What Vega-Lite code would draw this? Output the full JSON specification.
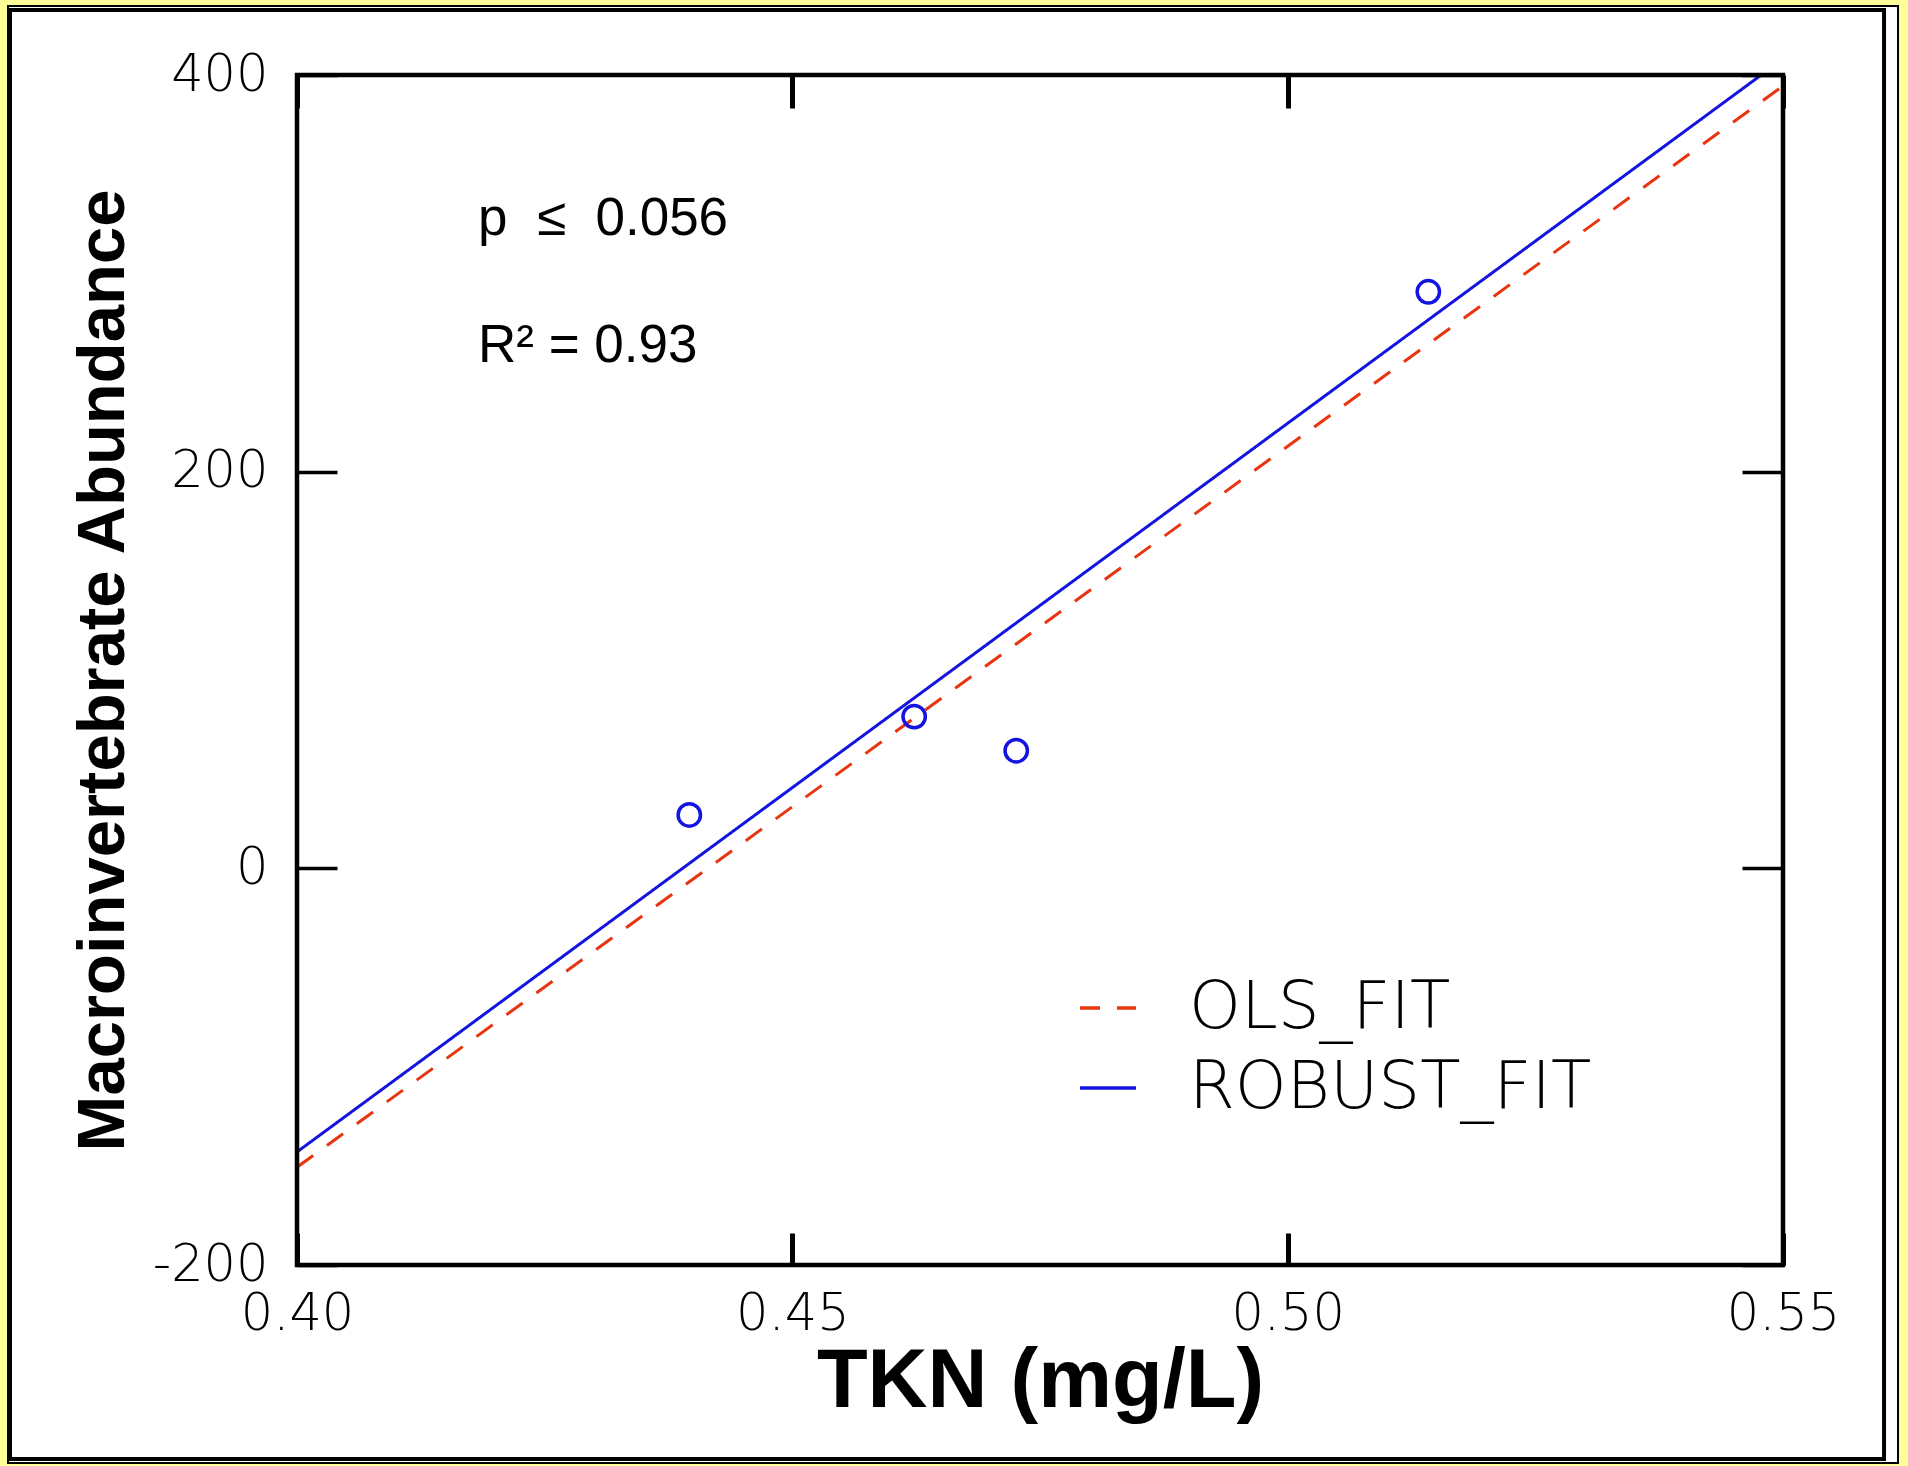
{
  "$schema": "https://vega.github.io/schema/vega-lite/v6.json",
  "width": 1486,
  "height": 1190,
  "autosize": {"type": "none"},
  "padding": {"left": 297, "top": 75, "right": 125, "bottom": 201},
  "background": "#ffff99",
  "config": {
    "view": {"stroke": null},
    "axis": {"grid": false, "labelColor": "black", "tickColor": "black", "labelFlush": false, "tickCap": "butt"}
  },
  "datasets": {
    "fits": [
      {"fit": "OLS_FIT", "x": 0.40, "y": -150.7},
      {"fit": "OLS_FIT", "x": 0.55, "y": 394.5},
      {"fit": "ROBUST_FIT", "x": 0.40, "y": -143},
      {"fit": "ROBUST_FIT", "x": 0.5478, "y": 400}
    ],
    "points": [
      {"x": 0.4396, "y": 26.9},
      {"x": 0.4623, "y": 76.5},
      {"x": 0.4726, "y": 59.3},
      {"x": 0.5142, "y": 290.7}
    ],
    "notes": [
      {"label": "p\u00a0\u00a0≤\u00a0\u00a00.056", "x": 0.41827, "y": 319.3},
      {"label": "R² = 0.93", "x": 0.41827, "y": 255.5}
    ]
  },
  "layer": [
    {
      "data": {"values": [{}]},
      "mark": {"type": "rect", "fill": "white", "stroke": "black", "strokeWidth": 2},
      "encoding": {
        "x": {"datum": 0.37083, "type": "quantitative", "scale": {"domain": [0.4, 0.55], "nice": false, "zero": false}, "axis": null},
        "x2": {"datum": 0.56161},
        "y": {"datum": 434.79, "type": "quantitative", "scale": {"domain": [-200, 400], "nice": false, "zero": false}, "axis": null},
        "y2": {"datum": -299.83}
      }
    },
    {
      "data": {"values": [{}]},
      "mark": {"type": "rect", "fillOpacity": 0, "stroke": "black", "strokeWidth": 4},
      "encoding": {
        "x": {"datum": 0.37103, "type": "quantitative", "scale": {"domain": [0.4, 0.55], "nice": false, "zero": false}, "axis": null},
        "x2": {"datum": 0.5602},
        "y": {"datum": 432.77, "type": "quantitative", "scale": {"domain": [-200, 400], "nice": false, "zero": false}, "axis": null},
        "y2": {"datum": -297.8}
      }
    },
    {
      "data": {"name": "fits"},
      "mark": {"type": "line", "strokeWidth": 3, "clip": true},
      "encoding": {
        "x": {
          "field": "x", "type": "quantitative",
          "scale": {"domain": [0.4, 0.55], "nice": false, "zero": false},
          "axis": {
            "orient": "bottom", "zindex": 2, "values": [0.4, 0.45, 0.5, 0.55], "format": ".2f",
            "ticks": false, "domain": false, "labelPadding": 49, "labelBaseline": "middle",
            "labelFont": "DejaVu Sans", "labelFontWeight": 200, "labelFontSize": 51,
            "title": "TKN (mg/L)", "titleFont": "Liberation Sans", "titleFontWeight": "bold",
            "titleFontSize": 83, "titleColor": "black", "titleX": 743, "titleY": 116, "titleBaseline": "middle", "titleAlign": "center"
          }
        },
        "y": {
          "field": "y", "type": "quantitative",
          "scale": {"domain": [-200, 400], "nice": false, "zero": false},
          "axis": {
            "orient": "left", "zindex": 2, "values": [-200, 0, 200, 400], "labelExpr": "'' + datum.value",
            "ticks": false, "domain": false, "labelPadding": 29, "labelBaseline": "middle",
            "labelFont": "DejaVu Sans", "labelFontWeight": 200, "labelFontSize": 51,
            "title": "Macroinvertebrate Abundance", "titleFont": "Liberation Sans", "titleFontWeight": "bold",
            "titleFontSize": 67, "titleColor": "black", "titleX": -194, "titleY": 595, "titleBaseline": "middle", "titleAlign": "center", "titleAngle": -90
          }
        },
        "color": {
          "field": "fit", "type": "nominal",
          "scale": {"domain": ["OLS_FIT", "ROBUST_FIT"], "range": ["#e8340f", "#1414e0"]},
          "legend": {
            "orient": "none", "legendX": 778, "legendY": 900, "title": null, "padding": 0, "zindex": 2,
            "symbolType": "stroke", "symbolSize": 3136, "symbolStrokeWidth": 3.5,
            "labelFont": "DejaVu Sans", "labelFontWeight": 200, "labelFontSize": 66, "labelColor": "black", "labelLimit": 1000,
            "labelOffset": 48, "rowPadding": 14
          }
        },
        "strokeDash": {
          "field": "fit", "type": "nominal",
          "scale": {"domain": ["OLS_FIT", "ROBUST_FIT"], "range": [[20, 17], [1, 0]]},
          "legend": {
            "orient": "none", "legendX": 778, "legendY": 900, "title": null, "padding": 0, "zindex": 2,
            "symbolType": "stroke", "symbolSize": 3136, "symbolStrokeWidth": 3.5,
            "labelFont": "DejaVu Sans", "labelFontWeight": 200, "labelFontSize": 66, "labelColor": "black", "labelLimit": 1000,
            "labelOffset": 48, "rowPadding": 14
          }
        }
      }
    },
    {
      "data": {"name": "points"},
      "mark": {"type": "point", "shape": "circle", "filled": false, "stroke": "#1414e0", "strokeWidth": 3.5, "size": 500, "opacity": 1},
      "encoding": {
        "x": {
          "field": "x", "type": "quantitative",
          "scale": {"domain": [0.4, 0.55], "nice": false, "zero": false},
          "axis": {"orient": "bottom", "zindex": 2, "offset": -32, "tickSize": 32, "tickWidth": 5, "labels": false, "domain": false, "title": null, "values": [0.4, 0.45, 0.5, 0.55]}
        },
        "y": {
          "field": "y", "type": "quantitative",
          "scale": {"domain": [-200, 400], "nice": false, "zero": false},
          "axis": {"orient": "left", "zindex": 2, "offset": -40, "tickSize": 40, "tickWidth": 3.5, "labels": false, "domain": false, "title": null, "values": [-200, 0, 200, 400]}
        }
      }
    },
    {
      "data": {"name": "notes"},
      "mark": {"type": "text", "align": "left", "baseline": "alphabetic", "font": "Liberation Sans", "fontSize": 53, "color": "black"},
      "encoding": {
        "x": {
          "field": "x", "type": "quantitative",
          "scale": {"domain": [0.4, 0.55], "nice": false, "zero": false},
          "axis": {"orient": "top", "zindex": 2, "offset": -33, "tickSize": 33, "tickWidth": 5, "labels": false, "domain": false, "title": null, "values": [0.4, 0.45, 0.5, 0.55]}
        },
        "y": {
          "field": "y", "type": "quantitative",
          "scale": {"domain": [-200, 400], "nice": false, "zero": false},
          "axis": {"orient": "right", "zindex": 2, "offset": -41, "tickSize": 41, "tickWidth": 3.5, "labels": false, "domain": false, "title": null, "values": [-200, 0, 200, 400]}
        },
        "text": {"field": "label", "type": "nominal"}
      }
    },
    {
      "data": {"values": [{}]},
      "mark": {"type": "rect", "fillOpacity": 0, "stroke": "black", "strokeWidth": 4.5},
      "encoding": {
        "x": {"datum": 0.4, "type": "quantitative", "scale": {"domain": [0.4, 0.55], "nice": false, "zero": false}, "axis": null},
        "x2": {"datum": 0.55},
        "y": {"datum": 400, "type": "quantitative", "scale": {"domain": [-200, 400], "nice": false, "zero": false}, "axis": null},
        "y2": {"datum": -200}
      }
    }
  ],
  "resolve": {"axis": {"x": "independent", "y": "independent"}}
}
